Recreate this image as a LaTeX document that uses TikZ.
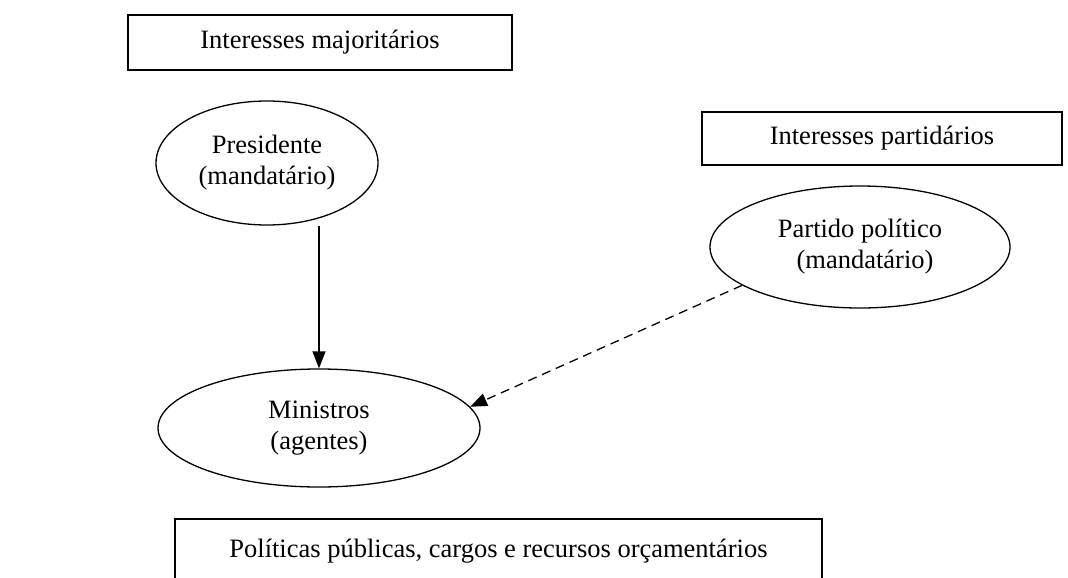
\documentclass[tikz,border=0pt]{standalone}
\usepackage{fontspec}
\setmainfont{Liberation Serif}
\usetikzlibrary{shapes.geometric,arrows.meta}
\begin{document}
\begin{tikzpicture}[x=1pt,y=-1pt,
  txt/.style={font=\fontsize{26.5}{31}\selectfont,align=center,inner sep=0pt},
  box/.style={txt,draw,line width=1.3pt,rectangle},
  ell/.style={txt,draw,line width=1.3pt,ellipse},
  arr/.style={line width=1.3pt,-{Triangle[length=17pt,width=13pt]}},
  dashedarr/.style={arr,dash pattern=on 9pt off 6pt}]
\clip (0,0) rectangle (1068,578);
\node[box,minimum width=384pt,minimum height=55pt] (top) at (320,42.5) {Interesses majoritários};
\node[box,minimum width=360pt,minimum height=53pt] (part) at (882,138.5) {Interesses partidários};
\node[box,minimum width=647pt,minimum height=64pt] (bot) at (498.5,551) {Políticas públicas, cargos e recursos orçamentários};
\node[ell,minimum width=222pt,minimum height=124pt] (P) at (267,163) {Presidente\\(mandatário)};
\node[ell,minimum width=322pt,minimum height=118pt] (M) at (319,428) {Ministros\\(agentes)};
\node[ell,minimum width=300pt,minimum height=122pt] (Pa) at (860,247) {Partido político\\\hspace*{10pt}(mandatário)};
\draw[arr] (P.south -| M.north) -- (M.north);
\draw[dashedarr] (Pa.198) -- (M.8);
\end{tikzpicture}
\end{document}
